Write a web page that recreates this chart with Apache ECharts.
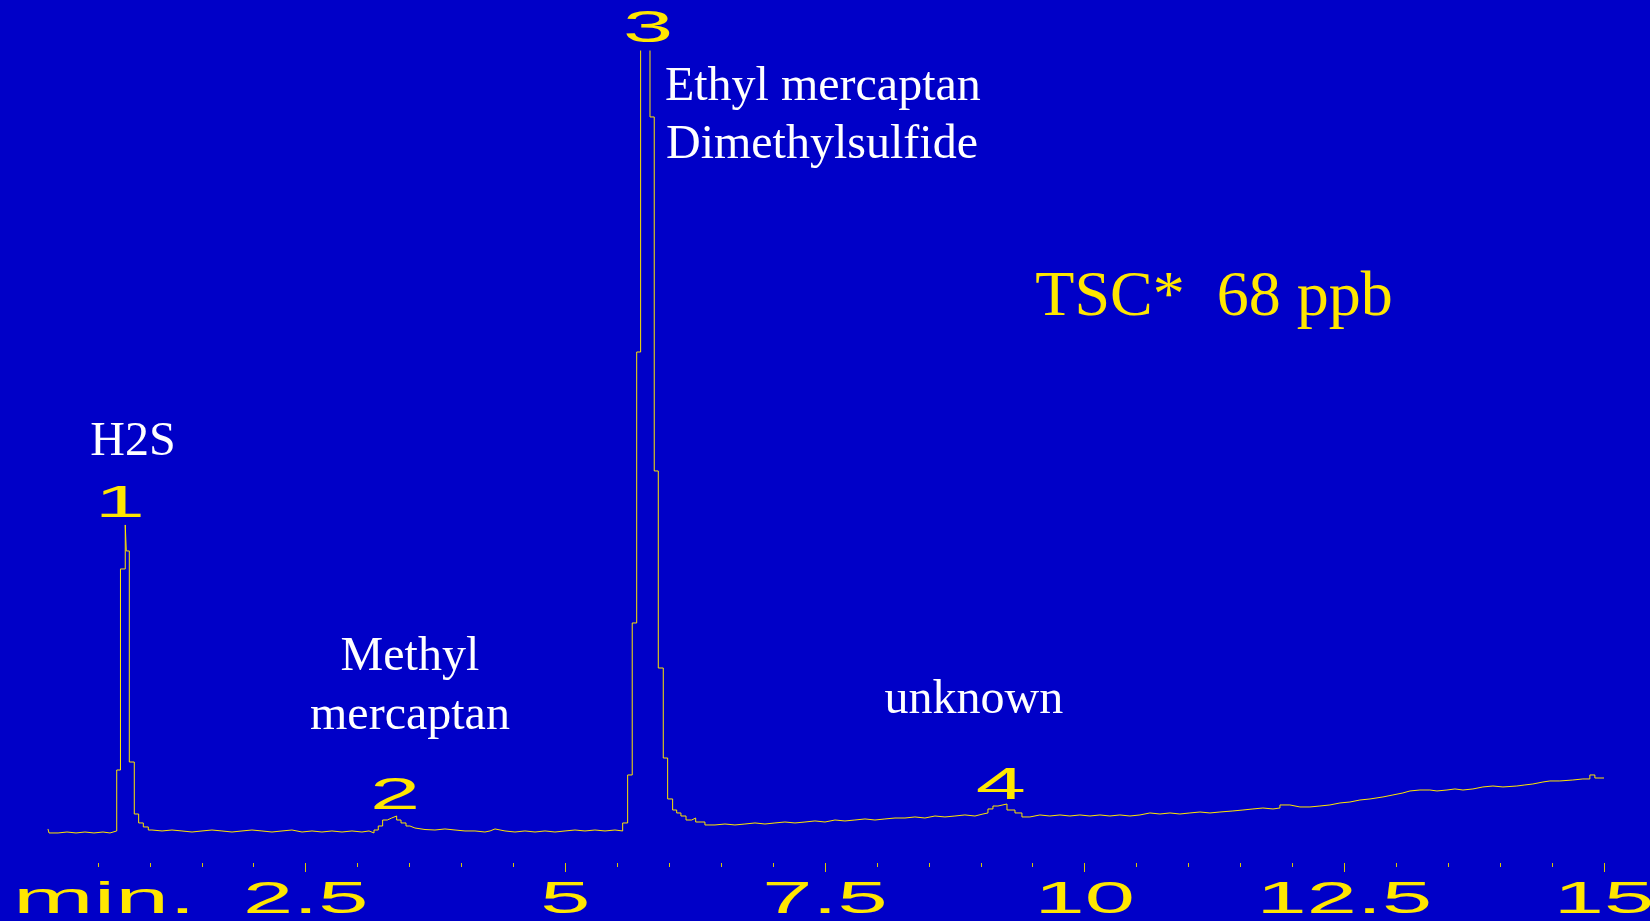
<!DOCTYPE html>
<html>
<head>
<meta charset="utf-8">
<script src="https://cdn.jsdelivr.net/npm/echarts@6/dist/echarts.min.js"></script>
<style>
html,body{margin:0;padding:0;background:#0000C8;}
#chart{width:1650px;height:921px;}
</style>
</head>
<body>
<div id="chart"></div>
<script>
// ---- data (retention time in min, detector response in arbitrary units) ----
const times = [0.019,0.029,0.116,0.202,0.289,0.375,0.462,0.549,0.616,0.681,0.717,0.763,0.773,0.802,0.850,0.892,0.937,0.985,
1.020,1.117,1.213,1.309,1.406,1.502,1.598,1.694,1.791,1.887,1.983,2.079,2.176,2.272,2.368,2.465,2.561,2.657,2.753,2.850,2.946,3.042,3.110,
3.158,3.199,3.241,3.286,3.328,3.376,3.418,3.466,3.504,3.552,
3.649,3.745,3.841,3.938,4.034,4.130,4.226,4.275,4.323,4.419,4.515,4.611,4.708,4.804,4.900,4.997,5.093,5.189,5.285,5.382,5.478,
5.552,5.600,5.644,5.687,5.725,5.815,5.856,5.895,5.943,5.985,6.033,6.072,6.113,6.162,6.217,6.255,
6.344,6.441,6.537,6.633,6.729,6.826,6.922,7.018,7.114,7.211,7.307,7.403,7.500,7.596,7.692,7.788,7.885,7.981,8.077,8.174,8.270,8.366,8.462,8.559,8.655,8.751,8.847,8.944,
9.021,9.069,9.117,9.165,9.252,9.329,9.396,
9.473,9.569,9.665,9.762,9.858,9.954,10.051,10.147,10.243,10.339,10.436,10.532,10.628,10.725,10.821,10.917,11.013,11.110,11.206,11.302,
11.427,11.524,11.620,11.716,11.813,11.880,11.976,12.073,12.169,12.265,12.361,12.458,12.554,12.650,12.747,12.872,12.968,13.064,13.132,13.228,
13.324,13.392,13.488,13.565,13.642,13.738,13.834,13.931,14.027,14.161,14.238,14.315,14.412,14.479,14.575,14.700,14.797,14.864,14.912,15.0];

const signal = [1.38,0.88,1.0,0.88,1.0,0.88,1.0,0.88,1.13,8.75,33.88,39.38,36.13,9.75,3.25,2.13,1.63,1.25,
1.13,1.25,1.13,1.0,1.13,1.25,1.13,1.0,1.13,1.25,1.13,1.0,1.13,1.25,1.0,1.13,1.0,1.13,1.0,1.13,1.0,1.13,0.88,
1.25,1.75,2.5,2.75,3.0,2.5,2.13,1.75,1.5,1.31,
1.25,1.38,1.25,1.13,1.13,1.0,1.13,1.38,1.13,1.0,1.13,1.0,1.13,1.0,1.13,1.25,1.13,1.25,1.13,1.25,1.13,
2.13,8.13,27.13,61.0,110,90.38,46.13,21.5,10.25,5.13,3.75,3.38,3.0,2.5,2.75,2.25,
1.88,2.0,1.88,2.0,2.13,2.0,2.13,2.25,2.13,2.25,2.38,2.25,2.5,2.38,2.5,2.63,2.5,2.63,2.75,2.75,2.88,2.75,3.0,2.88,3.0,3.13,3.0,3.25,
3.38,3.88,4.25,4.5,3.75,3.38,2.88,
3.13,3.0,3.13,3.0,3.13,3.0,3.13,3.0,3.13,3.0,3.13,3.38,3.25,3.38,3.25,3.38,3.5,3.38,3.5,3.63,
3.75,3.88,4.0,3.88,4.0,4.38,4.13,4.13,4.25,4.38,4.63,4.75,5.0,5.13,5.38,5.63,5.88,6.13,6.25,6.25,
6.13,6.25,6.38,6.25,6.38,6.63,6.75,6.63,6.75,6.88,7.0,7.25,7.38,7.38,7.5,7.63,7.63,8.13,7.75,7.75];

const tickValues = [2.5, 5, 7.5, 10, 12.5, 15];
const tickLabels = ['2.5', '5', '7.5', '10', '12.5', '15'];
const axisUnit = 'min.';

// ---- annotations (anchored in data units) ----
const peakNumberTexts = ['1', '2', '3', '4'];
const peakNumberT = [0.712, 3.360, 5.796, 9.194];
const peakNumberV = [41.85, 5.38, 101.25, 6.63];

const compoundTexts = ['H2S', 'Methyl', 'mercaptan', 'Ethyl mercaptan', 'Dimethylsulfide', 'unknown'];
const compoundT = [0.838, 3.504, 3.504, 5.959, 5.969, 8.934];
const compoundV = [49.73, 22.85, 15.45, 94.1, 86.85, 17.5];
const compoundAlign = ['center', 'center', 'center', 'left', 'left', 'center'];

const totalText = 'TSC*  68 ppb';
const totalT = 11.245;
const totalV = 67.75;

// ---- chart ----
const Y_MIN = -2.875, Y_MAX = 98.625;
const YELLOW = '#FFE600';
const BG = '#0000C8';
const seriesData = times.map((t, i) => [t, signal[i]]);

const chart = echarts.init(document.getElementById('chart'), null, {renderer: 'canvas'});
chart.setOption({
  backgroundColor: BG,
  animation: false,
  grid: {left: 46, right: 46, top: 51, bottom: 58},
  xAxis: {
    type: 'value', min: 0, max: 15, interval: 2.5,
    axisLine: {show: false, onZero: false},
    axisTick: {show: true, length: 9, inside: false, customValues: tickValues, lineStyle: {color: '#D8C800', width: 1}},
    minorTick: {show: true, splitNumber: 5, length: 4, lineStyle: {color: '#D8C800', width: 1}},
    axisLabel: {show: false},
    splitLine: {show: false},
    minorSplitLine: {show: false}
  },
  yAxis: {
    type: 'value', min: Y_MIN, max: Y_MAX, show: false,
    splitLine: {show: false}
  },
  series: [{
    type: 'line',
    step: 'end',
    data: seriesData,
    showSymbol: false,
    symbol: 'none',
    clip: true,
    lineStyle: {color: YELLOW, width: 1},
    silent: true
  }]
});

function txt(x, y, text, font, fill, align, sx) {
  return {
    type: 'text', x: x, y: y, scaleX: sx || 1, scaleY: 1, silent: true, z: 10,
    style: {
      text: text, x: 0, y: 0, font: font, fill: fill,
      align: align, verticalAlign: 'middle',
      textAlign: align, textVerticalAlign: 'middle'
    }
  };
}

const toPx = (t, v) => chart.convertToPixel({gridIndex: 0}, [t, v]);
const WIDE_FONT = '44px "Liberation Sans", Arial, sans-serif';
const WIDE_SCALE = 2.05;
const SERIF_FONT = '48px "Liberation Serif", "Times New Roman", serif';
const BIG_SERIF = '64px "Liberation Serif", "Times New Roman", serif';

const axisY = toPx(0, Y_MIN)[1];
const axisX0 = toPx(0, Y_MIN)[0];
const labelY = axisY + 37.5;
const g = [];
tickValues.forEach((val, i) => {
  g.push(txt(toPx(val, Y_MIN)[0], labelY, tickLabels[i], WIDE_FONT, YELLOW, 'center', WIDE_SCALE));
});
g.push(txt(axisX0 - 33, labelY, axisUnit, WIDE_FONT, YELLOW, 'left', 2.2));
peakNumberTexts.forEach((s, i) => {
  const p = toPx(peakNumberT[i], peakNumberV[i]);
  g.push(txt(p[0], p[1], s, WIDE_FONT, YELLOW, 'center', WIDE_SCALE));
});
compoundTexts.forEach((s, i) => {
  const p = toPx(compoundT[i], compoundV[i]);
  g.push(txt(p[0], p[1], s, SERIF_FONT, '#FFFFFF', compoundAlign[i], 1));
});
const tp = toPx(totalT, totalV);
g.push(txt(tp[0], tp[1], totalText, BIG_SERIF, YELLOW, 'center', 1));

chart.setOption({graphic: {elements: g}});
</script>
</body>
</html>
